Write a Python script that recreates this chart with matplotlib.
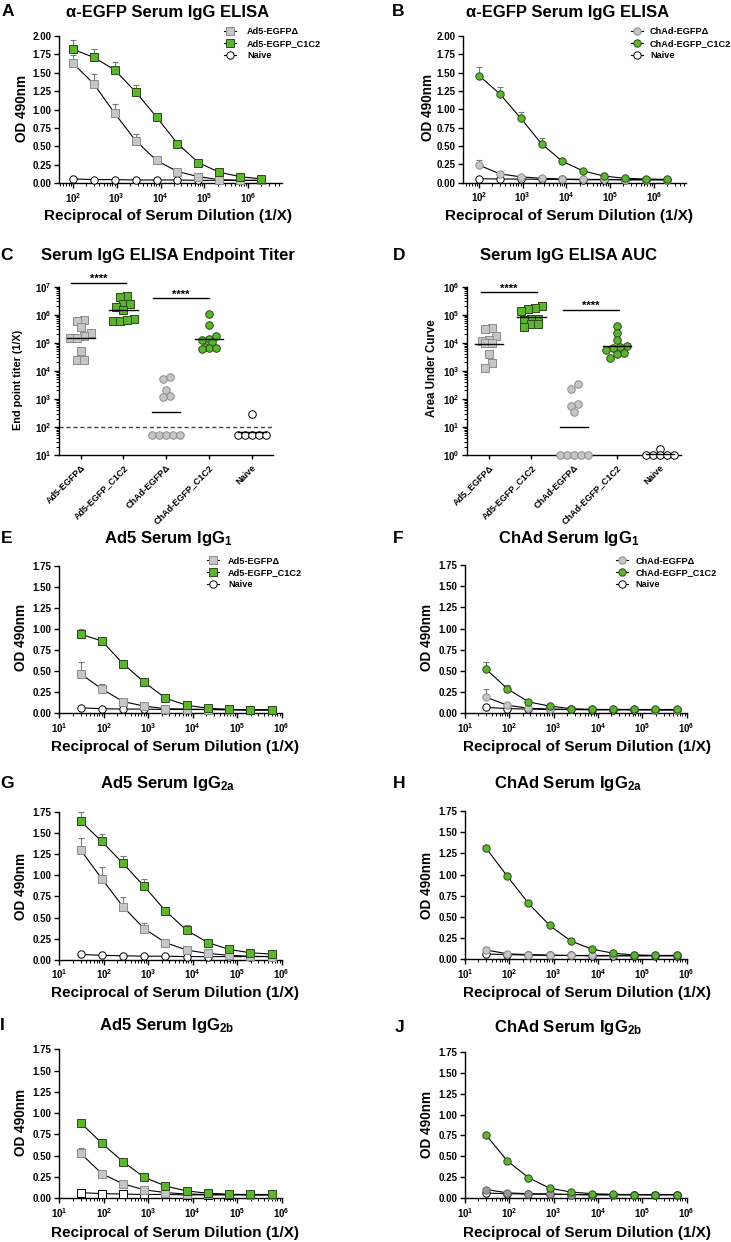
import numpy as np
import matplotlib
matplotlib.use('Agg')
import matplotlib.pyplot as plt
from matplotlib.ticker import LogLocator, NullFormatter, FixedLocator, FormatStrFormatter, LogFormatterSciNotation
from matplotlib.lines import Line2D

# ---------------- data ----------------
DIL_AB = [100, 300, 900, 2700, 8100, 24300, 72900, 218700, 656100, 1968300]
DIL_EJ = [30, 90, 270, 810, 2430, 7290, 21870, 65610, 196830, 590490]

# A: Ad5 total IgG
A_DEL = [1.63, 1.35, 0.95, 0.58, 0.31, 0.16, 0.09, 0.05, 0.04, 0.04]
A_DEL_ERR = [0.11, 0.13, 0.12, 0.09, 0.02, 0.02, 0.01, 0.01, 0.0, 0.0]
A_C1C2 = [1.82, 1.71, 1.54, 1.24, 0.90, 0.54, 0.28, 0.15, 0.09, 0.06]
A_C1C2_ERR = [0.13, 0.12, 0.11, 0.10, 0.06, 0.02, 0.02, 0.01, 0.01, 0.0]
A_NAIVE = [0.06, 0.05, 0.05, 0.045, 0.045, 0.045, 0.04, 0.04, 0.04, 0.04]

# B: ChAd total IgG
B_DEL = [0.24, 0.12, 0.08, 0.06, 0.05, 0.045, 0.045, 0.04, 0.04, 0.04]
B_DEL_ERR = [0.07, 0.02, 0.01, 0.01, 0.0, 0.0, 0.0, 0.0, 0.0, 0.0]
B_C1C2 = [1.46, 1.21, 0.88, 0.53, 0.29, 0.16, 0.09, 0.06, 0.05, 0.045]
B_C1C2_ERR = [0.12, 0.10, 0.09, 0.08, 0.02, 0.01, 0.01, 0.0, 0.0, 0.0]
B_NAIVE = [0.055, 0.05, 0.05, 0.045, 0.045, 0.04, 0.04, 0.04, 0.04, 0.04]

# C: endpoint titers
C_CATS = ['Ad5-EGFPΔ', 'Ad5-EGFP_C1C2', 'ChAd-EGFPΔ', 'ChAd-EGFP_C1C2', 'Naive']
C_AD5_DEL = [6.5e5, 6.0e5, 3.7e5, 2.2e5, 1.7e5, 1.5e5, 1.5e5, 5.2e4, 2.5e4, 2.5e4]
C_AD5_C1C2 = [4.6e6, 4.2e6, 2.4e6, 2.4e6, 1.9e6, 1.5e6, 6.9e5, 6.2e5, 6.2e5, 6.4e5]
C_CHAD_DEL = [5.9e3, 5.0e3, 2.0e3, 1.26e3, 1.2e3, 50, 50, 50, 50, 50]
C_CHAD_C1C2 = [1.1e6, 4.2e5, 1.8e5, 1.37e5, 1.26e5, 1.1e5, 7.2e4, 6.3e4, 6.3e4, 6.0e4]
C_NAIVE = [300, 50, 50, 50, 50, 50]
C_LOD = 100

# D: AUC
D_CATS = ['Ad5_EGFPΔ', 'Ad5-EGFP_C1C2', 'ChAd-EGFPΔ', 'ChAd-EGFP_C1C2', 'Naive']
D_AD5_DEL = [3.5e4, 3.1e4, 1.7e4, 1.3e4, 1.2e4, 1.0e4, 1.0e4, 4.0e3, 1.9e3, 1.3e3]
D_AD5_C1C2 = [2.0e5, 1.8e5, 1.55e5, 1.4e5, 7.2e4, 6.9e4, 6.5e4, 4.5e4, 4.5e4, 3.7e4]
D_CHAD_DEL = [340, 230, 65, 56, 35, 1, 1, 1, 1, 1]
D_CHAD_C1C2 = [4.0e4, 2.2e4, 1.26e4, 7.9e3, 7.2e3, 6.3e3, 5.5e3, 4.2e3, 3.9e3, 2.8e3]
D_NAIVE = [1.6, 1, 1, 1, 1, 1]

# E: Ad5 IgG1
E_DEL = [0.47, 0.29, 0.14, 0.085, 0.055, 0.05, 0.045, 0.045, 0.04, 0.04]
E_DEL_ERR = [0.14, 0.06, 0.03, 0.01, 0.01, 0.0, 0.0, 0.0, 0.0, 0.0]
E_C1C2 = [0.94, 0.86, 0.59, 0.37, 0.18, 0.095, 0.06, 0.047, 0.04, 0.04]
E_C1C2_ERR = [0.06, 0.03, 0.04, 0.02, 0.01, 0.0, 0.0, 0.0, 0.0, 0.0]
E_NAIVE = [0.065, 0.055, 0.05, 0.05, 0.045, 0.045, 0.045, 0.04, 0.04, 0.04]

# F: ChAd IgG1
F_DEL = [0.19, 0.095, 0.06, 0.05, 0.045, 0.045, 0.045, 0.045, 0.04, 0.04]
F_DEL_ERR = [0.10, 0.03, 0.01, 0.0, 0.0, 0.0, 0.0, 0.0, 0.0, 0.0]
F_C1C2 = [0.52, 0.29, 0.135, 0.085, 0.055, 0.045, 0.045, 0.045, 0.045, 0.045]
F_C1C2_ERR = [0.09, 0.04, 0.01, 0.01, 0.0, 0.0, 0.0, 0.0, 0.0, 0.0]
F_NAIVE = [0.07, 0.055, 0.05, 0.045, 0.045, 0.04, 0.04, 0.04, 0.04, 0.04]

# G: Ad5 IgG2a
G_DEL = [1.30, 0.96, 0.63, 0.37, 0.206, 0.117, 0.078, 0.055, 0.045, 0.04]
G_DEL_ERR = [0.14, 0.14, 0.11, 0.07, 0.02, 0.02, 0.01, 0.0, 0.0, 0.0]
G_C1C2 = [1.64, 1.40, 1.14, 0.87, 0.58, 0.35, 0.206, 0.125, 0.085, 0.07]
G_C1C2_ERR = [0.11, 0.09, 0.09, 0.09, 0.05, 0.06, 0.01, 0.01, 0.0, 0.0]
G_NAIVE = [0.066, 0.055, 0.05, 0.045, 0.045, 0.04, 0.04, 0.04, 0.04, 0.04]

# H: ChAd IgG2a
H_DEL = [0.11, 0.065, 0.055, 0.05, 0.045, 0.045, 0.045, 0.045, 0.045, 0.045]
H_DEL_ERR = [0.04, 0.01, 0.0, 0.0, 0.0, 0.0, 0.0, 0.0, 0.0, 0.0]
H_C1C2 = [1.31, 0.98, 0.66, 0.40, 0.216, 0.12, 0.072, 0.052, 0.045, 0.045]
H_C1C2_ERR = [0.04, 0.04, 0.02, 0.02, 0.01, 0.0, 0.0, 0.0, 0.0, 0.0]
H_NAIVE = [0.063, 0.055, 0.05, 0.045, 0.045, 0.04, 0.04, 0.04, 0.04, 0.04]

# I: Ad5 IgG2b
I_DEL = [0.53, 0.29, 0.17, 0.10, 0.067, 0.05, 0.045, 0.045, 0.04, 0.04]
I_DEL_ERR = [0.06, 0.02, 0.02, 0.01, 0.0, 0.0, 0.0, 0.0, 0.0, 0.0]
I_C1C2 = [0.89, 0.647, 0.43, 0.247, 0.145, 0.086, 0.06, 0.047, 0.045, 0.045]
I_C1C2_ERR = [0.02, 0.05, 0.02, 0.01, 0.01, 0.0, 0.0, 0.0, 0.0, 0.0]
I_NAIVE = [0.067, 0.055, 0.05, 0.045, 0.045, 0.04, 0.04, 0.04, 0.04, 0.04]

# J: ChAd IgG2b
J_DEL = [0.105, 0.065, 0.055, 0.05, 0.045, 0.045, 0.045, 0.045, 0.045, 0.045]
J_DEL_ERR = [0.01, 0.0, 0.0, 0.0, 0.0, 0.0, 0.0, 0.0, 0.0, 0.0]
J_C1C2 = [0.753, 0.447, 0.247, 0.12, 0.075, 0.055, 0.047, 0.045, 0.045, 0.045]
J_C1C2_ERR = [0.01, 0.01, 0.0, 0.0, 0.0, 0.0, 0.0, 0.0, 0.0, 0.0]
J_NAIVE = [0.062, 0.055, 0.05, 0.05, 0.045, 0.04, 0.04, 0.04, 0.04, 0.04]

AD5_LABELS = ['Ad5-EGFPΔ', 'Ad5-EGFP_C1C2', 'Naive']
CHAD_LABELS = ['ChAd-EGFPΔ', 'ChAd-EGFP_C1C2', 'Naive']

# ---------------- style ----------------
W, H = 731, 1242
plt.rcParams['font.family'] = ['Liberation Sans', 'DejaVu Sans']
plt.rcParams['font.weight'] = 'bold'
plt.rcParams['axes.labelweight'] = 'bold'
plt.rcParams['mathtext.default'] = 'regular'

GREEN = '#5cb531'
GREEN_EDGE = '#2b4a18'
GRAY = '#c6c6c6'
GRAY_EDGE = '#8c8c8c'
DGRAY = '#9a9a9a'
DGRAY_EDGE = '#666666'
ERRC = '#7a7a7a'
MS = 5.3

fig = plt.figure(figsize=(W / 100, H / 100), dpi=100)


def add_ax(x0, x1, ytop, ybot):
    ax = fig.add_axes([x0 / W, 1 - ybot / H, (x1 - x0) / W, (ybot - ytop) / H])
    for s in ['top', 'right']:
        ax.spines[s].set_visible(False)
    for s in ['left', 'bottom']:
        ax.spines[s].set_linewidth(1.0)
    ax.tick_params(which='major', length=3.5, width=1.0, labelsize=7, pad=2)
    ax.tick_params(which='minor', length=2, width=0.7)
    ax.patch.set_alpha(0)
    return ax


def ftext(x, y, s, **kw):
    fig.text(x / W, 1 - y / H, s, **kw)


def logx(ax, lo, hi):
    ax.set_xscale('log')
    ax.set_xlim(lo, hi)
    ax.xaxis.set_major_locator(LogLocator(base=10, numticks=20))
    ax.xaxis.set_major_formatter(LogFormatterSciNotation())
    ax.xaxis.set_minor_locator(LogLocator(base=10, subs=np.arange(2, 10), numticks=20))
    ax.xaxis.set_minor_formatter(NullFormatter())


def ody(ax, top):
    ax.set_ylim(0, top)
    ax.yaxis.set_major_locator(FixedLocator(np.arange(0, top + 0.01, 0.25)))
    ax.yaxis.set_major_formatter(FormatStrFormatter('%.2f'))


def curve(ax, x, y, err, marker, fc, ec, z):
    y = np.asarray(y, float)
    if err is not None:
        ax.errorbar(x, y, yerr=[np.zeros_like(y), np.asarray(err, float)], fmt='none',
                    ecolor=ERRC, elinewidth=0.8, capsize=2.4, capthick=0.8,
                    zorder=z - 0.5, clip_on=False)
    ax.plot(x, y, '-', color='black', lw=0.8, marker=marker, ms=MS, mfc=fc, mec=ec,
            mew=0.7, zorder=z, clip_on=False)


def handle(marker, fc, ec):
    return Line2D([0], [0], color='k', lw=0.8, marker=marker, ms=MS, mfc=fc, mec=ec, mew=0.7)


def make_legend(ax, handles, labels, mx, ytop, pad=1.0):
    ax.legend(handles, labels, loc='upper left',
              bbox_to_anchor=((mx - 6) / W, 1 - ytop / H), bbox_transform=fig.transFigure,
              frameon=False, fontsize=6.6, handlelength=1.3, handletextpad=pad,
              labelspacing=0.32, borderpad=0, borderaxespad=0)


def od_panel(box, xlim, top, dil, dele, dele_err, c1c2, c1c2_err, naive, marker, naive_marker,
             del_fc=GRAY, del_ec=GRAY_EDGE):
    ax = add_ax(*box)
    logx(ax, *xlim)
    ody(ax, top)
    curve(ax, dil, naive, None, naive_marker, 'white', 'black', 3)
    curve(ax, dil, dele, dele_err, marker, del_fc, del_ec, 4)
    curve(ax, dil, c1c2, c1c2_err, marker, GREEN, GREEN_EDGE, 5)
    return ax


def swarm_offsets(ax, xc, vals, d):
    """Row-binned scatter (GraphPad-like): points whose display heights lie
    within most of a marker size share a row and are spread side by side."""
    pts = ax.transData.transform(np.column_stack([np.full(len(vals), float(xc)), vals]))
    ys = pts[:, 1]
    ppu = ax.transData.transform((1, 1))[0] - ax.transData.transform((0, 1))[0]
    order = np.argsort(-ys, kind='stable')
    bins = []
    for i in order:
        if bins and ys[bins[-1][0]] - ys[i] < 0.75 * d:
            bins[-1].append(i)
        else:
            bins.append([i])
    offs = np.zeros(len(vals))
    for b in bins:
        b = sorted(b, key=lambda k: ys[k])
        n = len(b)
        for j, k in enumerate(b):
            offs[k] = (j - (n - 1) / 2) * d
    return offs / ppu


def dot_panel(box, ylim, groups, cats, styles):
    ax = add_ax(*box)
    ax.set_yscale('log')
    ax.set_ylim(*ylim)
    ax.set_xlim(-0.5, 4.5)
    ax.yaxis.set_major_locator(LogLocator(base=10, numticks=20))
    ax.yaxis.set_major_formatter(LogFormatterSciNotation())
    ax.yaxis.set_minor_locator(LogLocator(base=10, subs=np.arange(2, 10), numticks=20))
    ax.yaxis.set_minor_formatter(NullFormatter())
    ax.set_xticks(range(len(cats)))
    ax.set_xticklabels(cats, rotation=45, ha='right', rotation_mode='anchor', fontsize=6.5)
    ax.tick_params(axis='x', length=3, pad=3)
    for i, (vals, (mk, fc, ec)) in enumerate(zip(groups, styles)):
        vals = np.asarray(vals, float)
        offs = swarm_offsets(ax, i, vals, 7.0)
        ax.scatter(i + offs, vals, marker=mk, s=MS ** 2 * 1.05, facecolor=fc, edgecolor=ec,
                   linewidth=0.7, zorder=3, clip_on=False)
        gm = 10 ** np.mean(np.log10(vals))
        ax.plot([i - 0.33, i + 0.33], [gm, gm], color='black', lw=1.0, zorder=4, clip_on=False)
    return ax


def sig(ax, x0, x1, ylog):
    y = 10 ** ylog
    ax.plot([x0, x1], [y, y], color='black', lw=1.0, clip_on=False)
    ax.annotate('****', xy=((x0 + x1) / 2, y), xytext=(0, 0.5), textcoords='offset points',
                ha='center', va='baseline', fontsize=8, annotation_clip=False)


# ---------------- panels A / B ----------------
axA = od_panel((59.3, 282, 36, 183.3), (10 ** 1.69, 10 ** 6.77), 2.0, DIL_AB,
               A_DEL, A_DEL_ERR, A_C1C2, A_C1C2_ERR, A_NAIVE, 's', 'o')
make_legend(axA, [handle('s', GRAY, GRAY_EDGE), handle('s', GREEN, GREEN_EDGE), handle('o', 'white', 'black')],
            AD5_LABELS, 230, 27.5, pad=1.2)
axB = od_panel((463.3, 685.7, 36, 182.7), (10 ** 1.64, 10 ** 6.73), 2.0, DIL_AB,
               B_DEL, B_DEL_ERR, B_C1C2, B_C1C2_ERR, B_NAIVE, 'o', 'o')
make_legend(axB, [handle('o', GRAY, GRAY_EDGE), handle('o', GREEN, GREEN_EDGE), handle('o', 'white', 'black')],
            CHAD_LABELS, 636.7, 27.5, pad=0.8)

# ---------------- panels C / D ----------------
styles = [('s', GRAY, GRAY_EDGE), ('s', GREEN, GREEN_EDGE), ('o', GRAY, GRAY_EDGE),
          ('o', GREEN, GREEN_EDGE), ('o', 'white', 'black')]
axC = dot_panel((59.3, 273, 286.7, 455), (10, 1e7),
                [C_AD5_DEL, C_AD5_C1C2, C_CHAD_DEL, C_CHAD_C1C2, C_NAIVE], C_CATS, styles)
axC.axhline(C_LOD, color='#444444', lw=1.0, ls=(0, (3, 2)), zorder=1)
sig(axC, -0.22, 1.05, 7.14)
sig(axC, 1.7, 3.0, 6.58)
axD = dot_panel((467.3, 681, 286.7, 455), (1, 1e6),
                [D_AD5_DEL, D_AD5_C1C2, D_CHAD_DEL, D_CHAD_C1C2, D_NAIVE], D_CATS, styles)
sig(axD, -0.17, 1.12, 5.80)
sig(axD, 1.74, 3.04, 5.17)

# ---------------- panels E - J ----------------
XL = (10, 1e6)
axE = od_panel((59.3, 281.7, 566, 713.3), XL, 1.75, DIL_EJ, E_DEL, E_DEL_ERR, E_C1C2, E_C1C2_ERR, E_NAIVE, 's', 'o')
make_legend(axE, [handle('s', GRAY, GRAY_EDGE), handle('s', GREEN, GREEN_EDGE), handle('o', 'white', 'black')],
            AD5_LABELS, 213, 556.5, pad=1.0)
axF = od_panel((465, 686.7, 565, 713.3), XL, 1.75, DIL_EJ, F_DEL, F_DEL_ERR, F_C1C2, F_C1C2_ERR, F_NAIVE, 'o', 'o')
make_legend(axF, [handle('o', GRAY, GRAY_EDGE), handle('o', GREEN, GREEN_EDGE), handle('o', 'white', 'black')],
            CHAD_LABELS, 621.7, 556.5, pad=0.9)
axG = od_panel((59.3, 281.7, 811.7, 960), XL, 1.75, DIL_EJ, G_DEL, G_DEL_ERR, G_C1C2, G_C1C2_ERR, G_NAIVE, 's', 'o')
axH = od_panel((465, 686.7, 811, 959.3), XL, 1.75, DIL_EJ, H_DEL, H_DEL_ERR, H_C1C2, H_C1C2_ERR, H_NAIVE, 'o', 'o')
axI = od_panel((59.3, 281.7, 1049.3, 1198.3), XL, 1.75, DIL_EJ, I_DEL, I_DEL_ERR, I_C1C2, I_C1C2_ERR, I_NAIVE, 's', 's')
axJ = od_panel((465, 686.7, 1051.7, 1198.3), XL, 1.75, DIL_EJ, J_DEL, J_DEL_ERR, J_C1C2, J_C1C2_ERR, J_NAIVE, 'o', 'o',
               del_fc=DGRAY, del_ec=DGRAY_EDGE)

# ---------------- text ----------------
TFS = 12
LFS = 12.5
XLFS = 11
YLFS = 9.8

titles = [
    ('A', 1.5, 16.5, 'α-EGFP Serum IgG ELISA', 167.5),
    ('B', 391.7, 16.5, 'α-EGFP Serum IgG ELISA', 568.0),
    ('C', 0.5, 260, 'Serum IgG ELISA Endpoint Titer', 167.5),
    ('D', 393, 260, 'Serum IgG ELISA AUC', 568.3),
    ('E', 0.5, 543.3, 'Ad5 Serum IgG$_1$', 168),
    ('F', 393, 543.3, 'ChAd Serum IgG$_1$', 568.8),
    ('G', 0.5, 788.3, 'Ad5 Serum IgG$_{2a}$', 168),
    ('H', 393, 788.3, 'ChAd Serum IgG$_{2a}$', 568),
    ('I', 0.0, 1030, 'Ad5 Serum IgG$_{2b}$', 167),
    ('J', 395, 1031.7, 'ChAd Serum IgG$_{2b}$', 568),
]
for letter, lx, by, title, tx in titles:
    ftext(lx, by, letter, fontsize=LFS, fontweight='bold', ha='left', va='baseline')
    ftext(tx, by, title, fontsize=TFS, fontweight='bold', ha='center', va='baseline')

XLAB = 'Reciprocal of Serum Dilution (1/X)'
for x, y in [(168, 216), (569, 216), (175.3, 746.7), (586.7, 746.7), (175.3, 993.3),
             (586.7, 993.3), (175.3, 1233.3), (586.7, 1233.3)]:
    ftext(x, y, XLAB, fontsize=XLFS, fontweight='bold', ha='center', va='center')

for x, y in [(21.5, 108.5), (427.5, 107.5), (21, 637.5), (427, 637.5), (21, 886),
             (427, 885), (21, 1122.7), (427, 1124)]:
    ftext(x, y, 'OD 490nm', fontsize=YLFS, fontweight='bold', ha='center', va='center', rotation=90)
ftext(18.5, 380, 'End point titer (1/X)', fontsize=7.8, fontweight='bold', ha='center', va='center', rotation=90)
ftext(431.7, 368.5, 'Area Under Curve', fontsize=8.3, fontweight='bold', ha='center', va='center', rotation=90)

fig.savefig('out.png', dpi=100)
